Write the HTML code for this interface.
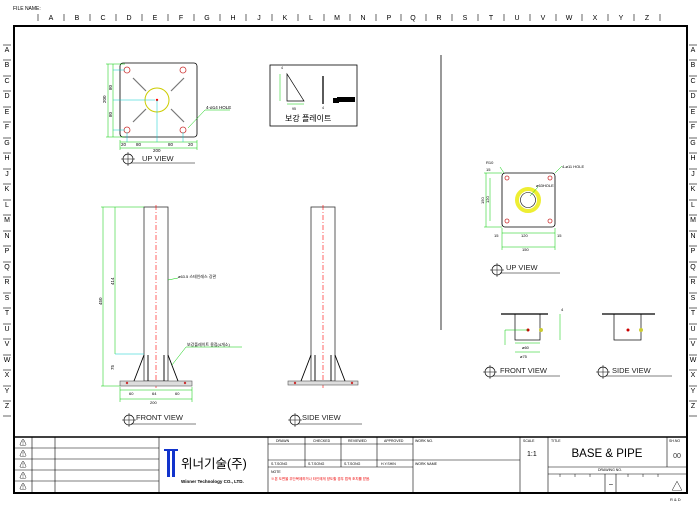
<!DOCTYPE html>
<html><head><meta charset="utf-8"><style>
html,body{margin:0;padding:0;background:#fff;width:700px;height:509px;overflow:hidden}
svg{display:block}
text{font-family:"Liberation Sans","Noto Sans CJK KR",sans-serif}
</style></head><body>
<svg width="700" height="509" viewBox="0 0 700 509" xmlns="http://www.w3.org/2000/svg">
<rect width="700" height="509" fill="#fff"/>
<text x="13" y="10" font-size="5">FILE NAME:</text>
<!-- top ruler -->
<g font-size="7" text-anchor="middle" fill="#000">
<text x="51" y="20">A</text><text x="77" y="20">B</text><text x="103" y="20">C</text><text x="129" y="20">D</text><text x="155" y="20">E</text><text x="181" y="20">F</text><text x="207" y="20">G</text><text x="233" y="20">H</text><text x="259" y="20">J</text><text x="285" y="20">K</text><text x="311" y="20">L</text><text x="337" y="20">M</text><text x="363" y="20">N</text><text x="389" y="20">P</text><text x="413" y="20">Q</text><text x="439" y="20">R</text><text x="465" y="20">S</text><text x="491" y="20">T</text><text x="517" y="20">U</text><text x="543" y="20">V</text><text x="569" y="20">W</text><text x="595" y="20">X</text><text x="621" y="20">Y</text><text x="647" y="20">Z</text>
</g>
<g stroke="#000" stroke-width="0.6">
<line x1="38" y1="14" x2="38" y2="21"/><line x1="64" y1="14" x2="64" y2="21"/><line x1="90" y1="14" x2="90" y2="21"/><line x1="116" y1="14" x2="116" y2="21"/><line x1="142" y1="14" x2="142" y2="21"/><line x1="168" y1="14" x2="168" y2="21"/><line x1="194" y1="14" x2="194" y2="21"/><line x1="220" y1="14" x2="220" y2="21"/><line x1="246" y1="14" x2="246" y2="21"/><line x1="272" y1="14" x2="272" y2="21"/><line x1="298" y1="14" x2="298" y2="21"/><line x1="324" y1="14" x2="324" y2="21"/><line x1="350" y1="14" x2="350" y2="21"/><line x1="376" y1="14" x2="376" y2="21"/><line x1="401" y1="14" x2="401" y2="21"/><line x1="426" y1="14" x2="426" y2="21"/><line x1="452" y1="14" x2="452" y2="21"/><line x1="478" y1="14" x2="478" y2="21"/><line x1="504" y1="14" x2="504" y2="21"/><line x1="530" y1="14" x2="530" y2="21"/><line x1="556" y1="14" x2="556" y2="21"/><line x1="582" y1="14" x2="582" y2="21"/><line x1="608" y1="14" x2="608" y2="21"/><line x1="634" y1="14" x2="634" y2="21"/><line x1="660" y1="14" x2="660" y2="21"/>
</g>
<!-- side rulers -->
<g font-size="7" text-anchor="middle">
<text x="7" y="52">A</text><text x="7" y="67">B</text><text x="7" y="83">C</text><text x="7" y="98">D</text><text x="7" y="114">E</text><text x="7" y="129">F</text><text x="7" y="145">G</text><text x="7" y="160">H</text><text x="7" y="176">J</text><text x="7" y="191">K</text><text x="7" y="207">L</text><text x="7" y="222">M</text><text x="7" y="238">N</text><text x="7" y="253">P</text><text x="7" y="269">Q</text><text x="7" y="284">R</text><text x="7" y="300">S</text><text x="7" y="315">T</text><text x="7" y="331">U</text><text x="7" y="346">V</text><text x="7" y="362">W</text><text x="7" y="377">X</text><text x="7" y="393">Y</text><text x="7" y="408">Z</text>
<text x="693" y="52">A</text><text x="693" y="67">B</text><text x="693" y="83">C</text><text x="693" y="98">D</text><text x="693" y="114">E</text><text x="693" y="129">F</text><text x="693" y="145">G</text><text x="693" y="160">H</text><text x="693" y="176">J</text><text x="693" y="191">K</text><text x="693" y="207">L</text><text x="693" y="222">M</text><text x="693" y="238">N</text><text x="693" y="253">P</text><text x="693" y="269">Q</text><text x="693" y="284">R</text><text x="693" y="300">S</text><text x="693" y="315">T</text><text x="693" y="331">U</text><text x="693" y="346">V</text><text x="693" y="362">W</text><text x="693" y="377">X</text><text x="693" y="393">Y</text><text x="693" y="408">Z</text>
</g>
<g stroke="#000" stroke-width="0.6">
<line x1="3" y1="45" x2="11" y2="45"/><line x1="3" y1="60" x2="11" y2="60"/><line x1="3" y1="76" x2="11" y2="76"/><line x1="3" y1="91" x2="11" y2="91"/><line x1="3" y1="107" x2="11" y2="107"/><line x1="3" y1="122" x2="11" y2="122"/><line x1="3" y1="138" x2="11" y2="138"/><line x1="3" y1="153" x2="11" y2="153"/><line x1="3" y1="169" x2="11" y2="169"/><line x1="3" y1="184" x2="11" y2="184"/><line x1="3" y1="200" x2="11" y2="200"/><line x1="3" y1="215" x2="11" y2="215"/><line x1="3" y1="231" x2="11" y2="231"/><line x1="3" y1="246" x2="11" y2="246"/><line x1="3" y1="262" x2="11" y2="262"/><line x1="3" y1="277" x2="11" y2="277"/><line x1="3" y1="293" x2="11" y2="293"/><line x1="3" y1="308" x2="11" y2="308"/><line x1="3" y1="324" x2="11" y2="324"/><line x1="3" y1="339" x2="11" y2="339"/><line x1="3" y1="355" x2="11" y2="355"/><line x1="3" y1="370" x2="11" y2="370"/><line x1="3" y1="386" x2="11" y2="386"/><line x1="3" y1="401" x2="11" y2="401"/><line x1="3" y1="416" x2="11" y2="416"/>
<line x1="689" y1="45" x2="697" y2="45"/><line x1="689" y1="60" x2="697" y2="60"/><line x1="689" y1="76" x2="697" y2="76"/><line x1="689" y1="91" x2="697" y2="91"/><line x1="689" y1="107" x2="697" y2="107"/><line x1="689" y1="122" x2="697" y2="122"/><line x1="689" y1="138" x2="697" y2="138"/><line x1="689" y1="153" x2="697" y2="153"/><line x1="689" y1="169" x2="697" y2="169"/><line x1="689" y1="184" x2="697" y2="184"/><line x1="689" y1="200" x2="697" y2="200"/><line x1="689" y1="215" x2="697" y2="215"/><line x1="689" y1="231" x2="697" y2="231"/><line x1="689" y1="246" x2="697" y2="246"/><line x1="689" y1="262" x2="697" y2="262"/><line x1="689" y1="277" x2="697" y2="277"/><line x1="689" y1="293" x2="697" y2="293"/><line x1="689" y1="308" x2="697" y2="308"/><line x1="689" y1="324" x2="697" y2="324"/><line x1="689" y1="339" x2="697" y2="339"/><line x1="689" y1="355" x2="697" y2="355"/><line x1="689" y1="370" x2="697" y2="370"/><line x1="689" y1="386" x2="697" y2="386"/><line x1="689" y1="401" x2="697" y2="401"/><line x1="689" y1="416" x2="697" y2="416"/>
</g>
<!-- main border -->
<rect x="14" y="26" width="673" height="467" fill="none" stroke="#000" stroke-width="2"/>

<!-- UP VIEW top-left -->
<g>
<rect x="120" y="63" width="77" height="74" rx="3" fill="none" stroke="#000" stroke-width="0.8"/>
<g stroke="#777" stroke-width="1.2"><line x1="133" y1="78" x2="146" y2="91"/><line x1="184" y1="78" x2="171" y2="91"/><line x1="133" y1="122" x2="146" y2="109"/><line x1="184" y1="122" x2="171" y2="109"/></g>
<circle cx="157" cy="100" r="12" fill="none" stroke="#cc0" stroke-width="1"/>
<circle cx="157" cy="100" r="1.2" fill="red"/>
<g fill="none" stroke="#c33" stroke-width="0.8"><circle cx="127" cy="70" r="3"/><circle cx="183" cy="70" r="3"/><circle cx="127" cy="130" r="3"/><circle cx="183" cy="130" r="3"/></g>
<g stroke="#0c0" stroke-width="0.5" fill="none"><line x1="108" y1="64" x2="108" y2="137"/><line x1="113" y1="64" x2="113" y2="137"/><line x1="106" y1="64" x2="125" y2="64"/><line x1="106" y1="137" x2="125" y2="137"/><line x1="120" y1="140" x2="120" y2="150"/><line x1="197" y1="140" x2="197" y2="150"/><line x1="120" y1="142" x2="197" y2="142"/><line x1="120" y1="148" x2="197" y2="148"/><line x1="188" y1="128" x2="205" y2="110"/><line x1="205" y1="110" x2="230" y2="110"/></g>
<g stroke="#0cc" stroke-width="0.5"><line x1="113" y1="70" x2="125" y2="70"/><line x1="113" y1="130" x2="125" y2="130"/><line x1="113" y1="100" x2="155" y2="100"/><line x1="157" y1="100" x2="157" y2="142"/><line x1="127" y1="132" x2="127" y2="142"/><line x1="183" y1="132" x2="183" y2="142"/></g>
<g font-size="4.5"><text x="206" y="109">4-ø14 HOLE</text><text x="153" y="152">200</text><text x="121" y="146">20</text><text x="136" y="146">80</text><text x="168" y="146">80</text><text x="188" y="146">20</text></g>
<g font-size="4.5" transform="rotate(-90)"><text x="-103" y="106">200</text><text x="-90" y="112">80</text><text x="-117" y="112">80</text></g>
<circle cx="128" cy="159" r="5" fill="none" stroke="#000" stroke-width="0.7"/><line x1="121" y1="159" x2="135" y2="159" stroke="#000" stroke-width="0.5"/><line x1="128" y1="152" x2="128" y2="166" stroke="#000" stroke-width="0.5"/>
<text x="142" y="161" font-size="7.5" fill="#222">UP VIEW</text>
<line x1="131" y1="163" x2="195" y2="163" stroke="#000" stroke-width="0.5"/>
</g>
<!-- 보강 플레이트 box -->
<rect x="270" y="65" width="87" height="61" fill="none" stroke="#000" stroke-width="0.8"/>
<path d="M287 74 L287 101 L304 101 Z" fill="none" stroke="#000" stroke-width="0.7"/>
<line x1="323" y1="76" x2="323" y2="104" stroke="#000" stroke-width="1.3"/>
<g stroke="#0c0" stroke-width="0.5"><line x1="280" y1="74" x2="280" y2="101"/><line x1="287" y1="104" x2="304" y2="104"/></g>
<rect x="337" y="97" width="18" height="5" fill="#000"/><rect x="333" y="98" width="6" height="5" fill="#000"/>
<g font-size="3.5"><text x="281" y="69">4</text><text x="292" y="110">95</text><text x="322" y="109">4</text></g>
<text x="285" y="121" font-size="8">보강 플레이트</text>

<!-- divider -->
<line x1="441" y1="55" x2="441" y2="330" stroke="#000" stroke-width="0.8"/>

<!-- FRONT VIEW -->
<g>
<rect x="144" y="207" width="24" height="174" fill="none" stroke="#333" stroke-width="0.8"/>
<line x1="156" y1="205" x2="156" y2="388" stroke="red" stroke-width="0.6" stroke-dasharray="5,2,1,2"/>
<rect x="120" y="381" width="72" height="5" fill="#ddd" stroke="#555" stroke-width="0.6"/>
<g stroke="#000" stroke-width="0.9"><line x1="144" y1="355" x2="134" y2="381"/><line x1="148" y1="355" x2="148" y2="381"/><line x1="168" y1="355" x2="178" y2="381"/><line x1="164" y1="355" x2="164" y2="381"/></g>
<g fill="#c33"><circle cx="127" cy="383" r="1.2"/><circle cx="185" cy="383" r="1.2"/></g>
<g stroke="#0c0" stroke-width="0.5" fill="none"><line x1="103" y1="207" x2="103" y2="386"/><line x1="115" y1="207" x2="115" y2="354"/><line x1="101" y1="207" x2="144" y2="207"/><line x1="101" y1="386" x2="120" y2="386"/><line x1="120" y1="390" x2="192" y2="390"/><line x1="120" y1="399" x2="192" y2="399"/><line x1="120" y1="387" x2="120" y2="402"/><line x1="192" y1="387" x2="192" y2="402"/><line x1="168" y1="280" x2="178" y2="278"/><line x1="172" y1="365" x2="186" y2="347"/><line x1="186" y1="347" x2="242" y2="347"/></g>
<line x1="115" y1="354" x2="144" y2="354" stroke="#0cc" stroke-width="0.5"/>
<g font-size="4"><text x="178" y="278">ø63.5 스테인레스 강관</text><text x="187" y="346">보강플레이트 용접(4개소)</text><text x="129" y="395">60</text><text x="152" y="395">64</text><text x="175" y="395">60</text><text x="150" y="404">200</text></g>
<g font-size="4.5" transform="rotate(-90)"><text x="-305" y="102">450</text><text x="-285" y="114">414</text><text x="-370" y="114">75</text></g>
<circle cx="129" cy="420" r="5" fill="none" stroke="#000" stroke-width="0.7"/><line x1="122" y1="420" x2="136" y2="420" stroke="#000" stroke-width="0.5"/><line x1="129" y1="413" x2="129" y2="427" stroke="#000" stroke-width="0.5"/>
<text x="136" y="420" font-size="7.5" fill="#222">FRONT VIEW</text>
<line x1="131" y1="424" x2="196" y2="424" stroke="#000" stroke-width="0.5"/>
</g>
<!-- SIDE VIEW -->
<g>
<rect x="311" y="207" width="24" height="174" fill="none" stroke="#333" stroke-width="0.8"/>
<line x1="323" y1="205" x2="323" y2="388" stroke="red" stroke-width="0.6" stroke-dasharray="5,2,1,2"/>
<rect x="288" y="381" width="70" height="4" fill="#ddd" stroke="#555" stroke-width="0.6"/>
<g stroke="#000" stroke-width="0.9"><line x1="311" y1="355" x2="301" y2="381"/><line x1="335" y1="355" x2="345" y2="381"/><line x1="315" y1="355" x2="315" y2="381"/><line x1="331" y1="355" x2="331" y2="381"/></g>
<g fill="#c33"><circle cx="295" cy="383" r="1.2"/><circle cx="352" cy="383" r="1.2"/></g>
<circle cx="295" cy="420" r="5" fill="none" stroke="#000" stroke-width="0.7"/><line x1="288" y1="420" x2="302" y2="420" stroke="#000" stroke-width="0.5"/><line x1="295" y1="413" x2="295" y2="427" stroke="#000" stroke-width="0.5"/>
<text x="302" y="420" font-size="7.5" fill="#222">SIDE VIEW</text>
<line x1="298" y1="424" x2="362" y2="424" stroke="#000" stroke-width="0.5"/>
</g>

<!-- right UP VIEW -->
<g>
<rect x="502" y="173" width="53" height="54" rx="3" fill="none" stroke="#000" stroke-width="0.8"/>
<circle cx="528" cy="200" r="11" fill="none" stroke="#ee3" stroke-width="4"/>
<circle cx="528" cy="200" r="7.5" fill="none" stroke="#000" stroke-width="0.6"/>
<g fill="none" stroke="#c33" stroke-width="0.8"><circle cx="507" cy="178" r="2"/><circle cx="550" cy="178" r="2"/><circle cx="507" cy="221" r="2"/><circle cx="550" cy="221" r="2"/></g>
<g stroke="#0c0" stroke-width="0.5" fill="none"><line x1="486" y1="173" x2="486" y2="227"/><line x1="490" y1="178" x2="490" y2="221"/><line x1="484" y1="173" x2="502" y2="173"/><line x1="484" y1="227" x2="502" y2="227"/><line x1="502" y1="233" x2="555" y2="233"/><line x1="502" y1="247" x2="555" y2="247"/><line x1="502" y1="228" x2="502" y2="250"/><line x1="555" y1="228" x2="555" y2="250"/><line x1="555" y1="173" x2="562" y2="166"/><line x1="530" y1="196" x2="538" y2="187"/><line x1="500" y1="167" x2="504" y2="173"/></g>
<g font-size="4"><text x="486" y="164">R10</text><text x="562" y="168">4-ø11 HOLE</text><text x="536" y="187">ø63HOLE</text><text x="494" y="237">15</text><text x="521" y="237">120</text><text x="557" y="237">15</text><text x="522" y="251">150</text><text x="486" y="171">15</text></g>
<g font-size="4" transform="rotate(-90)"><text x="-204" y="484">150</text><text x="-203" y="489">120</text></g>
<circle cx="497" cy="270" r="5" fill="none" stroke="#000" stroke-width="0.7"/><line x1="490" y1="270" x2="504" y2="270" stroke="#000" stroke-width="0.5"/><line x1="497" y1="263" x2="497" y2="277" stroke="#000" stroke-width="0.5"/>
<text x="506" y="270" font-size="7.5" fill="#222">UP VIEW</text>
<line x1="500" y1="273" x2="560" y2="273" stroke="#000" stroke-width="0.5"/>
</g>
<!-- right FRONT/SIDE small -->
<g>
<line x1="501" y1="314" x2="548" y2="314" stroke="#000" stroke-width="1.2"/>
<rect x="515" y="314" width="25" height="26" fill="none" stroke="#000" stroke-width="0.7"/>
<circle cx="528" cy="330" r="1.5" fill="#c00"/><circle cx="541" cy="330" r="2" fill="#cc3"/>
<g stroke="#0c0" stroke-width="0.5" fill="none"><line x1="505" y1="330" x2="528" y2="330"/><line x1="505" y1="330" x2="505" y2="345"/><line x1="515" y1="343" x2="540" y2="343"/><line x1="515" y1="352" x2="540" y2="352"/><line x1="560" y1="314" x2="560" y2="340"/></g>
<g font-size="4"><text x="522" y="349">ø60</text><text x="520" y="358">ø75</text><text x="561" y="311">4</text></g>
<circle cx="490" cy="372" r="5" fill="none" stroke="#000" stroke-width="0.7"/><line x1="483" y1="372" x2="497" y2="372" stroke="#000" stroke-width="0.5"/><line x1="490" y1="365" x2="490" y2="379" stroke="#000" stroke-width="0.5"/>
<text x="500" y="373" font-size="7.5" fill="#222">FRONT VIEW</text>
<line x1="493" y1="376" x2="560" y2="376" stroke="#000" stroke-width="0.5"/>
<line x1="602" y1="314" x2="655" y2="314" stroke="#000" stroke-width="1.2"/>
<rect x="614" y="314" width="27" height="26" fill="none" stroke="#000" stroke-width="0.7"/>
<circle cx="628" cy="330" r="1.5" fill="#c00"/><circle cx="641" cy="330" r="2" fill="#cc3"/>
<circle cx="603" cy="372" r="5" fill="none" stroke="#000" stroke-width="0.7"/><line x1="596" y1="372" x2="610" y2="372" stroke="#000" stroke-width="0.5"/><line x1="603" y1="365" x2="603" y2="379" stroke="#000" stroke-width="0.5"/>
<text x="612" y="373" font-size="7.5" fill="#222">SIDE VIEW</text>
<line x1="606" y1="376" x2="672" y2="376" stroke="#000" stroke-width="0.5"/>
</g>

<!-- title block -->
<g stroke="#000" fill="none">
<line x1="14" y1="437" x2="687" y2="437" stroke-width="1.6"/>
<g stroke-width="0.6">
<line x1="32" y1="437" x2="32" y2="493"/><line x1="55" y1="437" x2="55" y2="493"/><line x1="159" y1="437" x2="159" y2="493"/><line x1="268" y1="437" x2="268" y2="493"/>
<line x1="14" y1="448" x2="159" y2="448"/><line x1="14" y1="459" x2="159" y2="459"/><line x1="14" y1="470" x2="159" y2="470"/><line x1="14" y1="481" x2="159" y2="481"/>
<line x1="305" y1="437" x2="305" y2="467"/><line x1="341" y1="437" x2="341" y2="467"/><line x1="377" y1="437" x2="377" y2="467"/><line x1="413" y1="437" x2="413" y2="493"/>
<line x1="268" y1="444" x2="413" y2="444"/><line x1="268" y1="460" x2="520" y2="460"/><line x1="268" y1="467" x2="413" y2="467"/>
<line x1="520" y1="437" x2="520" y2="493"/><line x1="548" y1="437" x2="548" y2="493"/><line x1="667" y1="437" x2="667" y2="467"/>
<line x1="548" y1="467" x2="687" y2="467"/><line x1="548" y1="474" x2="687" y2="474"/>
<line x1="605" y1="474" x2="605" y2="493"/><line x1="616" y1="474" x2="616" y2="493"/>
</g>
</g>
<g font-size="7" text-anchor="middle"><text x="23" y="445">⚠</text><text x="23" y="456">⚠</text><text x="23" y="467">⚠</text><text x="23" y="478">⚠</text><text x="23" y="489">⚠</text></g>
<rect x="167" y="449" width="3" height="28" fill="#1133cc"/><rect x="172" y="449" width="3" height="28" fill="#1133cc"/><rect x="164" y="449" width="14" height="2" fill="#1133cc"/>
<text x="181" y="468" font-size="12.5">위너기술(주)</text>
<text x="181" y="483" font-size="4.5" font-weight="bold">Winner Technology CO., LTD.</text>
<g font-size="3.5"><text x="276" y="442">DRAWN</text><text x="313" y="442">CHECKED</text><text x="348" y="442">REVIEWED</text><text x="384" y="442">APPROVED</text><text x="415" y="442">WORK NO.</text><text x="415" y="465">WORK NAME</text><text x="523" y="442">SCALE</text><text x="551" y="442">TITLE</text><text x="669" y="442">SH.NO</text><text x="598" y="471">DRAWING NO.</text>
<text x="271" y="465">S.T.SONG</text><text x="308" y="465">S.T.SONG</text><text x="344" y="465">S.T.SONG</text><text x="381" y="465">H.Y.SHIN</text><text x="271" y="473">NOTE</text></g>
<text x="271" y="480" font-size="3.5" fill="#e00">※본 도면을 무단복제하거나 타인에게 양도할 경우 법적 조치를 받음.</text>
<text x="527" y="456" font-size="7">1:1</text>
<text x="607" y="457" font-size="11.5" text-anchor="middle">BASE &amp; PIPE</text>
<text x="677" y="458" font-size="7" text-anchor="middle" fill="#333">00</text>
<text x="609" y="486" font-size="7">–</text>
<text x="677" y="490" font-size="11" text-anchor="middle">△</text>
<g stroke="#000" stroke-width="0.5"><line x1="560" y1="474" x2="560" y2="477"/><line x1="575" y1="474" x2="575" y2="477"/><line x1="590" y1="474" x2="590" y2="477"/><line x1="628" y1="474" x2="628" y2="477"/><line x1="643" y1="474" x2="643" y2="477"/><line x1="658" y1="474" x2="658" y2="477"/></g>
<text x="670" y="501" font-size="4">R &amp; D</text>
</svg>
</body></html>
